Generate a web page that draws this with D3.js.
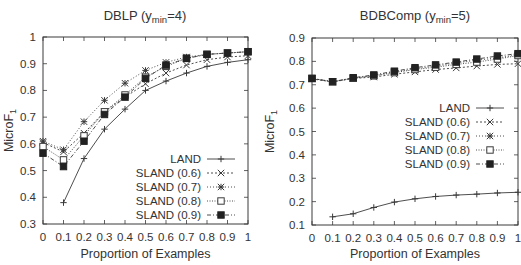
<!DOCTYPE html>
<html>
<head>
<meta charset="utf-8">
<script src="https://cdn.jsdelivr.net/npm/d3@7"></script>
<style>
  body { margin: 0; background: #fff; }
  text { font-family: "Liberation Sans", Arial, sans-serif; fill: #333; }
</style>
</head>
<body>
<svg id="chart" width="521" height="265"></svg>
<script>

var xVals = [0, 0.1, 0.2, 0.3, 0.4, 0.5, 0.6, 0.7, 0.8, 0.9, 1.0];
var seriesNames = ["LAND", "SLAND (0.6)", "SLAND (0.7)", "SLAND (0.8)", "SLAND (0.9)"];

// DBLP (ymin=4)
var dblpLand  = [null, 0.38, 0.545, 0.655, 0.73, 0.80, 0.835, 0.865, 0.89, 0.905, 0.915];
var dblpS06   = [0.605, 0.57, 0.64, 0.72, 0.775, 0.825, 0.865, 0.895, 0.915, 0.925, 0.93];
var dblpS07   = [0.61, 0.578, 0.683, 0.763, 0.827, 0.875, 0.905, 0.925, 0.935, 0.94, 0.945];
var dblpS08   = [0.59, 0.54, 0.63, 0.72, 0.783, 0.85, 0.89, 0.92, 0.935, 0.94, 0.945];
var dblpS09   = [0.565, 0.515, 0.61, 0.71, 0.775, 0.845, 0.895, 0.92, 0.935, 0.94, 0.945];

// BDBComp (ymin=5)
var bdbLand = [null, 0.135, 0.148, 0.175, 0.198, 0.212, 0.222, 0.228, 0.232, 0.237, 0.24];
var bdbS06  = [0.725, 0.712, 0.727, 0.733, 0.745, 0.755, 0.765, 0.772, 0.78, 0.787, 0.79];
var bdbS07  = [0.727, 0.713, 0.728, 0.74, 0.755, 0.768, 0.78, 0.793, 0.805, 0.815, 0.828];
var bdbS08  = [0.727, 0.713, 0.728, 0.738, 0.752, 0.765, 0.775, 0.787, 0.797, 0.81, 0.825];
var bdbS09  = [0.727, 0.713, 0.73, 0.742, 0.758, 0.773, 0.785, 0.797, 0.81, 0.823, 0.833];

var dblpYTicks = [0.3, 0.4, 0.5, 0.6, 0.7, 0.8, 0.9, 1];
var bdbYTicks = [0.1, 0.2, 0.3, 0.4, 0.5, 0.6, 0.7, 0.8, 0.9];

var dashes = [null, "2,2", "1,2", "1,1.5", "4,2,1,2"];
var lineColor = "#3a3a3a";

var svg = d3.select("#chart");

drawPanel({
  left: 43, right: 248, top: 37, bottom: 224,
  yDomain: [0.3, 1], yTicks: dblpYTicks, yFmt: d3.format(".1~f"),
  title: "DBLP (y", titleSub: "min", titleEnd: "=4)", titleX: 145,
  series: [dblpLand, dblpS06, dblpS07, dblpS08, dblpS09],
  legendRight: 201, legendTop: 159, ylabelX: 13
});

drawPanel({
  left: 312, right: 518, top: 38, bottom: 225,
  yDomain: [0.1, 0.9], yTicks: bdbYTicks, yFmt: d3.format(".1f"),
  title: "BDBComp (y", titleSub: "min", titleEnd: "=5)", titleX: 415,
  series: [bdbLand, bdbS06, bdbS07, bdbS08, bdbS09],
  legendRight: 470, legendTop: 108, ylabelX: 274
});

function drawPanel(p){
  var x = d3.scaleLinear().domain([0, 1]).range([p.left, p.right]);
  var y = d3.scaleLinear().domain(p.yDomain).range([p.bottom, p.top]);
  var g = svg.append("g");

  // ticks (inside, mirrored like gnuplot)
  var tk = 4;
  xVals.forEach(function(v){
    g.append("line").attr("x1", x(v)).attr("x2", x(v)).attr("y1", p.bottom).attr("y2", p.bottom - tk)
      .attr("stroke", lineColor).attr("stroke-width", 0.8);
    g.append("line").attr("x1", x(v)).attr("x2", x(v)).attr("y1", p.top).attr("y2", p.top + tk)
      .attr("stroke", lineColor).attr("stroke-width", 0.8);
    g.append("text").attr("x", x(v)).attr("y", p.bottom + 17).attr("text-anchor", "middle")
      .attr("font-size", 11.5).text(d3.format(".1~f")(v));
  });
  p.yTicks.forEach(function(v){
    g.append("line").attr("x1", p.left).attr("x2", p.left + tk).attr("y1", y(v)).attr("y2", y(v))
      .attr("stroke", lineColor).attr("stroke-width", 0.8);
    g.append("line").attr("x1", p.right).attr("x2", p.right - tk).attr("y1", y(v)).attr("y2", y(v))
      .attr("stroke", lineColor).attr("stroke-width", 0.8);
    g.append("text").attr("x", p.left - 7).attr("y", y(v) + 4).attr("text-anchor", "end")
      .attr("font-size", 11.5).text(p.yFmt(v));
  });

  g.append("rect").attr("x", p.left).attr("y", p.top)
    .attr("width", p.right - p.left).attr("height", p.bottom - p.top)
    .attr("fill", "none").attr("stroke", lineColor).attr("stroke-width", 1);

  // title
  var t = g.append("text").attr("x", p.titleX).attr("y", 20).attr("text-anchor", "middle").attr("font-size", 13);
  t.append("tspan").text(p.title);
  t.append("tspan").attr("dy", 3).attr("font-size", 9.5).text(p.titleSub);
  t.append("tspan").attr("dy", -3).text(p.titleEnd);

  // axis labels
  g.append("text").attr("x", (p.left + p.right) / 2).attr("y", 258).attr("text-anchor", "middle")
    .attr("font-size", 12.5).text("Proportion of Examples");
  var yl = g.append("text").attr("transform", "translate(" + p.ylabelX + "," + ((p.top + p.bottom) / 2) + ") rotate(-90)")
    .attr("text-anchor", "middle").attr("font-size", 12.5);
  yl.append("tspan").text("MicroF");
  yl.append("tspan").attr("dy", 3).attr("font-size", 9).text("1");

  // lines
  var line = d3.line().defined(function(d){ return d[1] != null; })
    .x(function(d){ return x(d[0]); }).y(function(d){ return y(d[1]); });

  p.series.forEach(function(vals, si){
    var pts = xVals.map(function(v, i){ return [v, vals[i]]; });
    g.append("path").datum(pts).attr("d", line).attr("fill", "none")
      .attr("stroke", lineColor).attr("stroke-width", 0.9)
      .attr("stroke-dasharray", dashes[si]);
    pts.filter(function(d){ return d[1] != null; }).forEach(function(d){
      drawMarker(g, si, x(d[0]), y(d[1]));
    });
  });

  // legend
  seriesNames.forEach(function(name, i){
    var ly = p.legendTop + i * 14;
    g.append("text").attr("x", p.legendRight).attr("y", ly + 4).attr("text-anchor", "end")
      .attr("font-size", 11.5).text(name);
    g.append("line").attr("x1", p.legendRight + 6).attr("x2", p.legendRight + 34)
      .attr("y1", ly).attr("y2", ly).attr("stroke", lineColor).attr("stroke-width", 0.9)
      .attr("stroke-dasharray", dashes[i]);
    drawMarker(g, i, p.legendRight + 20, ly);
  });
}

function drawMarker(g, type, cx, cy){
  var s = 3.2;
  if (type == 0 || type == 2){
    g.append("path").attr("d", "M" + (cx - s) + "," + cy + "H" + (cx + s) + "M" + cx + "," + (cy - s) + "V" + (cy + s))
      .attr("stroke", lineColor).attr("stroke-width", 1);
  }
  if (type == 1 || type == 2){
    g.append("path").attr("d", "M" + (cx - s) + "," + (cy - s) + "L" + (cx + s) + "," + (cy + s) +
      "M" + (cx - s) + "," + (cy + s) + "L" + (cx + s) + "," + (cy - s))
      .attr("stroke", lineColor).attr("stroke-width", 1);
  }
  if (type == 3){
    g.append("rect").attr("x", cx - 3.2).attr("y", cy - 3.2).attr("width", 6.4).attr("height", 6.4)
      .attr("fill", "#fff").attr("stroke", lineColor).attr("stroke-width", 1);
  }
  if (type == 4){
    g.append("rect").attr("x", cx - 3.2).attr("y", cy - 3.2).attr("width", 6.4).attr("height", 6.4)
      .attr("fill", "#222").attr("stroke", "#222").attr("stroke-width", 1);
  }
}
</script>
</body>
</html>
